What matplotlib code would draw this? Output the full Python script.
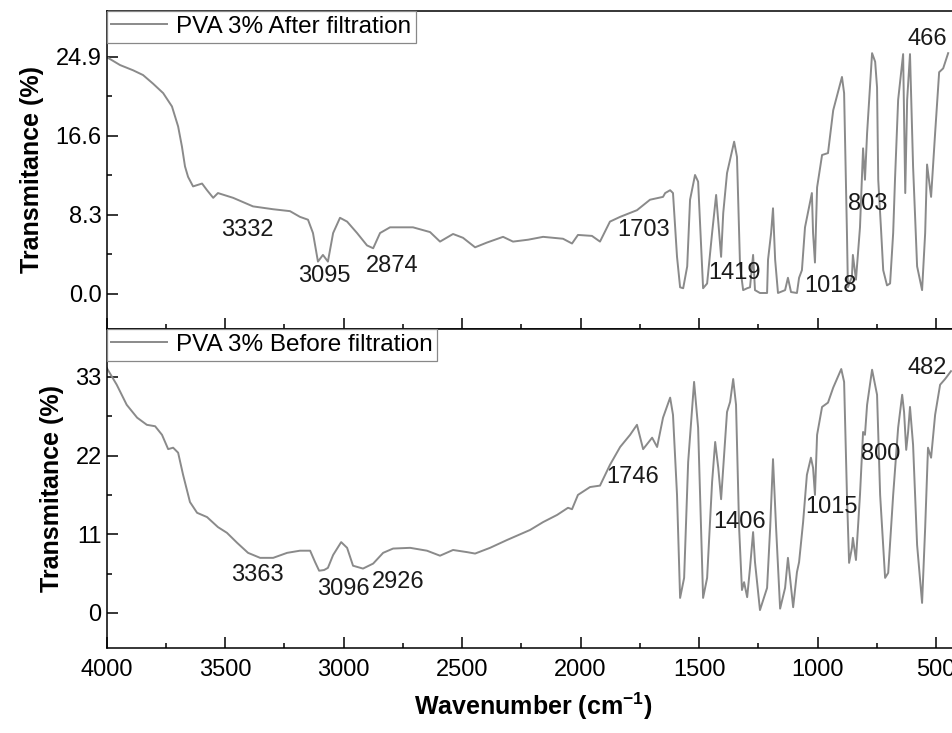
import matplotlib
matplotlib.use("Agg")
from matplotlib import pyplot as plt
from matplotlib.ticker import MultipleLocator, FormatStrFormatter

plt.rcParams['font.family'] = ['Liberation Sans', 'DejaVu Sans']
plt.rcParams['mathtext.fontset'] = 'custom'
plt.rcParams['mathtext.rm'] = 'Liberation Sans'
plt.rcParams['mathtext.bf'] = 'Liberation Sans:bold'

# spectrum after filtration (wavenumber cm-1, transmittance %)
after_wn = [4000, 3943, 3888, 3846, 3804, 3761, 3724, 3698, 3682, 3669, 3656, 3635,
            3597, 3576, 3550, 3530, 3466, 3382, 3297, 3226, 3184, 3150, 3129, 3108,
            3087, 3066, 3044, 3015, 2985, 2943, 2901, 2875, 2846, 2804, 2707, 2635,
            2593, 2538, 2496, 2445, 2395, 2327, 2285, 2221, 2158, 2074, 2036, 2011,
            1952, 1918, 1876, 1833, 1762, 1707, 1652, 1643, 1622, 1610, 1593, 1580,
            1567, 1550, 1538, 1517, 1504, 1487, 1483, 1466, 1445, 1428, 1415, 1407,
            1398, 1382, 1352, 1340, 1327, 1314, 1297, 1285, 1272, 1264, 1243, 1213,
            1209, 1196, 1188, 1179, 1167, 1137, 1125, 1112, 1087, 1078, 1066, 1053,
            1024, 1019, 1011, 1002, 981, 956, 934, 897, 888, 876, 872, 855, 851, 838,
            821, 808, 800, 791, 770, 757, 749, 744, 732, 723, 707, 694, 681, 673, 660,
            639, 630, 622, 610, 597, 580, 559, 546, 538, 521, 504, 487, 470, 449]
after_t = [24.9, 24.05, 23.5, 23.0, 22.1, 21.1, 19.7, 17.6, 15.5, 13.4, 12.3, 11.3,
           11.6, 10.9, 10.1, 10.6, 10.1, 9.2, 8.9, 8.7, 8.1, 7.8, 6.4, 3.4,
           4.1, 3.4, 6.4, 8.0, 7.6, 6.4, 5.1, 4.8, 6.4, 7.0, 7.0, 6.5,
           5.5, 6.3, 5.9, 4.9, 5.4, 6.0, 5.5, 5.7, 6.0, 5.8, 5.3, 6.2,
           6.1, 5.5, 7.6, 8.1, 8.8, 9.9, 10.2, 10.6, 10.9, 10.6, 3.9, 0.7,
           0.6, 2.9, 9.9, 12.5, 11.8, 2.9, 0.6, 1.1, 6.4, 10.4, 6.4, 3.9,
           8.5, 12.7, 16.0, 14.4, 2.9, 0.4, 0.6, 0.7, 4.1, 0.4, 0.1, 0.1,
           3.6, 6.4, 9.0, 3.6, 0.1, 0.4, 1.7, 0.2, 0.1, 1.7, 2.5, 7.0,
           10.6, 6.4, 3.3, 11.2, 14.6, 14.8, 19.3, 22.8, 21.1, 6.4, 0.7, 1.8, 4.1, 1.5,
           7.0, 15.3, 12.0, 16.9, 25.3, 24.4, 21.7, 12.0, 6.7, 2.5, 0.9, 1.1, 6.4, 12.2, 20.4,
           25.2, 10.6, 20.4, 25.2, 13.4, 2.9, 0.4, 6.4, 13.6, 10.2, 16.9, 23.3, 23.7, 25.3]

# spectrum before filtration
before_wn = [4000, 3957, 3915, 3871, 3830, 3795, 3766, 3740, 3719, 3698, 3677, 3648,
             3618, 3576, 3530, 3492, 3449, 3403, 3352, 3297, 3238, 3184, 3141, 3120,
             3103, 3082, 3066, 3044, 3010, 2985, 2960, 2918, 2875, 2833, 2791, 2719,
             2648, 2593, 2538, 2479, 2445, 2382, 2310, 2213, 2158, 2099, 2053, 2036,
             2011, 1960, 1918, 1876, 1833, 1791, 1762, 1736, 1698, 1677, 1652, 1622,
             1610, 1593, 1580, 1563, 1546, 1521, 1504, 1483, 1466, 1445, 1432, 1419,
             1407, 1398, 1382, 1369, 1356, 1344, 1331, 1319, 1310, 1297, 1285, 1272,
             1264, 1243, 1213, 1200, 1188, 1175, 1158, 1137, 1125, 1116, 1103, 1087,
             1078, 1061, 1045, 1028, 1019, 1011, 1002, 981, 956, 934, 900, 888, 876,
             867, 855, 851, 838, 821, 808, 800, 791, 770, 749, 736, 715, 702, 681, 660,
             643, 635, 626, 618, 610, 597, 580, 559, 546, 534, 521, 504, 483, 462, 437]
before_t = [34.3, 31.9, 29.1, 27.3, 26.3, 26.1, 24.9, 22.9, 23.1, 22.4, 19.3, 15.5,
            14.0, 13.4, 12.0, 11.2, 9.8, 8.4, 7.7, 7.7, 8.4, 8.7, 8.7, 7.1,
            5.9, 6.0, 6.3, 8.1, 9.9, 9.1, 6.6, 6.2, 6.9, 8.4, 9.0, 9.1,
            8.7, 8.0, 8.8, 8.5, 8.3, 9.1, 10.2, 11.6, 12.7, 13.7, 14.7, 14.5,
            16.5, 17.6, 17.8, 20.7, 23.2, 24.9, 26.3, 22.9, 24.5, 23.2, 27.3, 30.1,
            27.7, 16.5, 2.1, 4.9, 21.1, 32.3, 25.9, 2.1, 4.9, 18.3, 23.9, 20.3,
            15.9, 20.3, 28.1, 29.5, 32.7, 29.1, 11.9, 3.2, 4.3, 2.2, 6.3, 11.3,
            7.1, 0.4, 3.5, 11.9, 21.5, 11.9, 0.6, 3.5, 7.7, 4.9, 0.8, 5.7,
            7.1, 12.7, 19.3, 21.7, 20.3, 16.5, 24.9, 28.8, 29.4, 31.5, 34.1, 32.3, 16.5,
            7.0, 9.1, 10.5, 7.4, 16.5, 25.3, 24.9, 29.1, 34.0, 30.5, 16.5, 4.9, 5.6, 16.5, 25.9,
            30.5, 28.1, 22.8, 25.3, 28.8, 23.5, 9.5, 1.4, 11.9, 23.1, 21.7, 27.7, 31.9, 32.7, 33.8]

# peak labels (text, wavenumber, y of text centre)
after_peaks = [('3332', 3407, 6.7), ('3095', 3082, 1.9), ('2874', 2796, 2.9),
               ('1703', 1736, 6.7), ('1419', 1352, 2.2), ('1018', 947, 0.8),
               ('803', 787, 9.5), ('466', 538, 26.8)]
before_peaks = [('3363', 3365, 5.3), ('3096', 3002, 3.4), ('2926', 2770, 4.3),
                ('1746', 1779, 19.0), ('1406', 1331, 12.7), ('1015', 943, 14.8),
                ('800', 732, 22.2), ('482', 538, 34.3)]

line_color = '#8a8a8a'
fs = 17

fig = plt.figure(figsize=(9.53, 7.33), dpi=100)
ax1 = fig.add_axes([0.1118, 0.5512, 0.8953, 0.4338])
ax2 = fig.add_axes([0.1118, 0.1160, 0.8953, 0.4352])

panels = [
    (ax1, after_wn, after_t, after_peaks, 'PVA 3% After filtration', (-3.68, 29.73), 8.3, '%.1f'),
    (ax2, before_wn, before_t, before_peaks, 'PVA 3% Before filtration', (-4.9, 39.7), 11, '%d'),
]
for ax, wn, t, peaks, name, ylim, step, fmt in panels:
    ax.plot(wn, t, color=line_color, lw=1.4, label=name)
    for txt, x, y in peaks:
        ax.text(x, y, txt, fontsize=fs, ha='center', va='center', color='#1a1a1a')
    ax.set_xlim(4000, 400)
    ax.set_ylim(*ylim)
    ax.xaxis.set_major_locator(MultipleLocator(500))
    ax.xaxis.set_minor_locator(MultipleLocator(250))
    ax.yaxis.set_major_locator(MultipleLocator(step))
    ax.yaxis.set_minor_locator(MultipleLocator(step / 2))
    ax.yaxis.set_major_formatter(FormatStrFormatter(fmt))
    ax.tick_params(which='both', direction='in', top=False, right=False,
                   labelsize=fs, width=1.1)
    ax.tick_params(which='major', length=8)
    ax.tick_params(which='minor', length=3.5)
    ax.tick_params(axis='x', which='major', pad=8)
    for sp in ax.spines.values():
        sp.set_linewidth(1.1)
    ax.set_ylabel('Transmitance (%)', fontsize=18, fontweight='bold', labelpad=8)
    leg = ax.legend(loc='upper left', borderaxespad=0, fancybox=False,
                    edgecolor='#888888', framealpha=1, fontsize=17.5,
                    handlelength=2.3, handletextpad=0.35, borderpad=0.2)
    leg.get_frame().set_linewidth(0.9)

ax1.tick_params(axis='x', labelbottom=False)
ax2.set_xlabel('Wavenumber (cm$^{\\mathbf{-1}}$)', fontsize=18, fontweight='bold', labelpad=7)

plt.savefig('out.png', dpi=100)
plt.close()
